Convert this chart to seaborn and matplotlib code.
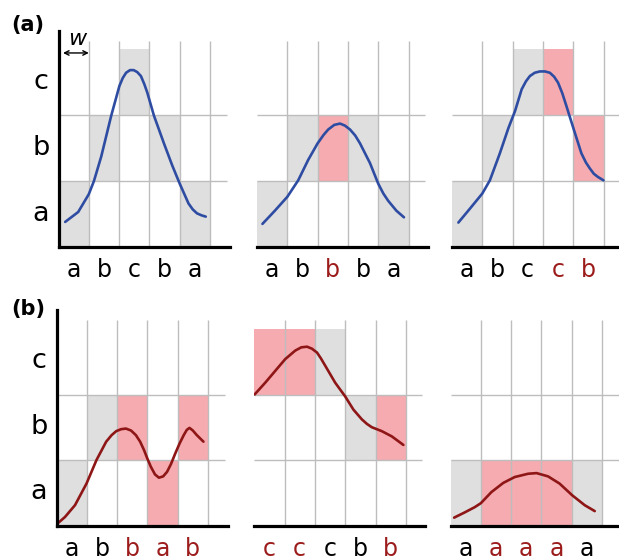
import matplotlib
matplotlib.use("Agg")
import matplotlib.pyplot as plt
import seaborn as sns
import pandas as pd

sns.set_theme(style="white")
plt.rcParams['font.family'] = ['DejaVu Sans']
plt.rcParams['text.color'] = 'black'

# ---------------- data ----------------
levels = ['a', 'b', 'c']

# row (a)
a1_letters = ['a', 'b', 'c', 'b', 'a']
a1_hilite = [0, 0, 0, 0, 0]
a1_x = [0.22, 0.65, 1.0, 1.17, 1.41, 1.74, 2.01, 2.12, 2.23, 2.36, 2.48, 2.6, 2.72, 2.83, 2.93, 3.15, 3.48, 3.75, 4.0, 4.29, 4.43, 4.57, 4.72, 4.86]
a1_y = [0.38, 0.53, 0.80, 1.0, 1.37, 1.99, 2.44, 2.56, 2.64, 2.68, 2.68, 2.65, 2.59, 2.47, 2.34, 1.99, 1.57, 1.24, 0.96, 0.66, 0.57, 0.51, 0.48, 0.46]

a2_letters = ['a', 'b', 'b', 'b', 'a']
a2_hilite = [0, 0, 1, 0, 0]
a2_x = [0.18, 0.59, 1.0, 1.36, 1.69, 2.0, 2.2, 2.35, 2.55, 2.74, 2.9, 3.07, 3.24, 3.4, 3.73, 4.0, 4.17, 4.33, 4.6, 4.85]
a2_y = [0.35, 0.55, 0.76, 1.01, 1.32, 1.57, 1.70, 1.78, 1.85, 1.87, 1.84, 1.78, 1.69, 1.57, 1.27, 0.96, 0.81, 0.70, 0.55, 0.45]

a3_letters = ['a', 'b', 'c', 'c', 'b']
a3_hilite = [0, 0, 0, 1, 1]
a3_x = [0.21, 0.59, 1.0, 1.25, 1.58, 1.86, 2.08, 2.3, 2.44, 2.57, 2.73, 2.9, 3.07, 3.23, 3.37, 3.5, 3.64, 3.78, 4.02, 4.27, 4.42, 4.55, 4.68, 4.82, 5.0]
a3_y = [0.37, 0.58, 0.81, 1.01, 1.42, 1.80, 2.06, 2.39, 2.51, 2.59, 2.64, 2.66, 2.66, 2.64, 2.58, 2.49, 2.33, 2.13, 1.78, 1.42, 1.28, 1.19, 1.11, 1.06, 1.01]

# row (b)
b1_letters = ['a', 'b', 'b', 'a', 'b']
b1_hilite = [0, 0, 1, 1, 1]
b1_x = [0.01, 0.28, 0.61, 0.99, 1.32, 1.64, 1.82, 1.97, 2.13, 2.29, 2.46, 2.62, 2.76, 2.89, 3.0, 3.11, 3.25, 3.38, 3.52, 3.65, 3.78, 3.92, 4.06, 4.2, 4.3, 4.39, 4.5, 4.63, 4.85]
b1_y = [0.02, 0.13, 0.31, 0.64, 1.0, 1.28, 1.38, 1.44, 1.47, 1.48, 1.45, 1.38, 1.28, 1.15, 1.02, 0.90, 0.78, 0.73, 0.75, 0.82, 0.94, 1.10, 1.25, 1.38, 1.46, 1.49, 1.45, 1.38, 1.28]

b2_letters = ['c', 'c', 'c', 'b', 'b']
b2_hilite = [1, 1, 0, 0, 1]
b2_x = [0.01, 0.36, 0.69, 1.02, 1.35, 1.55, 1.74, 1.9, 2.07, 2.2, 2.34, 2.67, 3.0, 3.27, 3.55, 3.72, 3.88, 4.21, 4.54, 4.92]
b2_y = [2.0, 2.18, 2.36, 2.54, 2.67, 2.72, 2.73, 2.70, 2.64, 2.55, 2.44, 2.18, 1.97, 1.77, 1.62, 1.55, 1.50, 1.44, 1.36, 1.23]

b3_letters = ['a', 'a', 'a', 'a', 'a']
b3_hilite = [0, 1, 1, 1, 0]
b3_x = [0.12, 0.47, 0.8, 1.0, 1.35, 1.74, 2.12, 2.56, 2.84, 3.22, 3.6, 4.02, 4.43, 4.76]
b3_y = [0.12, 0.20, 0.28, 0.34, 0.51, 0.65, 0.74, 0.79, 0.80, 0.75, 0.64, 0.46, 0.31, 0.22]

# ---------------- style ----------------
W, H = 619, 560
GRAY = '#dfdfdf'
PINK = '#f6abb0'
GRID = '#bdbdbd'
BLUE = '#2e4ca2'
DRED = '#8e1616'
TRED = '#9c1c1c'
COLW = 30.3

fig = plt.figure(figsize=(W / 100, H / 100), dpi=100)


def panel(left_px, base_px, unit, letters, hilite, cx, cy, line_color, first=False):
    w_px, h_px = 171, 216
    ax = fig.add_axes([left_px / W, (H - base_px) / H, w_px / W, h_px / H])
    ax.set_xlim(0, w_px / COLW)
    ax.set_ylim(0, h_px / unit)
    ax.set_xticks([])
    ax.set_yticks([])
    ax.set_facecolor('none')
    for s in ['top', 'right']:
        ax.spines[s].set_visible(False)
    ax.spines['left'].set_visible(first)
    for s in ['left', 'bottom']:
        ax.spines[s].set_linewidth(2.3)
        ax.spines[s].set_color('black')
        ax.spines[s].set_zorder(5)
    bottoms = [levels.index(l) for l in letters]
    cols = [PINK if h else GRAY for h in hilite]
    ax.bar(range(5), [1] * 5, bottom=bottoms, width=1, align='edge',
           color=cols, linewidth=0, zorder=1)
    top_v = (h_px - 10) / unit
    ax.vlines(range(1, 6), 0, top_v, color=GRID, lw=1.0, zorder=2)
    ax.hlines([1, 2], 0, 5.55, color=GRID, lw=1.0, zorder=2)
    df = pd.DataFrame({'x': cx, 'y': cy})
    sns.lineplot(data=df, x='x', y='y', sort=False, color=line_color,
                 lw=1.9, ax=ax, zorder=4, solid_joinstyle='round',
                 solid_capstyle='round')
    ax.set_xlabel('')
    ax.set_ylabel('')
    for i, (l, h) in enumerate(zip(letters, hilite)):
        ax.text(i + 0.5, -30 / unit, l, ha='center', va='baseline',
                fontsize=17, color=TRED if h else 'black', clip_on=False)
    if first:
        for j, l in enumerate(levels):
            ax.text(-0.58, j + 0.4, l, ha='center', va='baseline',
                    fontsize=19.5, color='black', clip_on=False)
    return ax


ax_a1 = panel(58.5, 247, 66, a1_letters, a1_hilite, a1_x, a1_y, BLUE, first=True)
panel(257, 247, 66, a2_letters, a2_hilite, a2_x, a2_y, BLUE)
panel(452, 247, 66, a3_letters, a3_hilite, a3_x, a3_y, BLUE)
panel(56.5, 525.5, 65.5, b1_letters, b1_hilite, b1_x, b1_y, DRED, first=True)
panel(254.3, 525.5, 65.5, b2_letters, b2_hilite, b2_x, b2_y, DRED)
panel(450.5, 525.5, 65.5, b3_letters, b3_hilite, b3_x, b3_y, DRED)

# width annotation
ax_a1.annotate('', xy=(0.15, 2.94), xytext=(1.0, 2.94),
               arrowprops=dict(arrowstyle='<->', color='black', lw=1.0,
                               shrinkA=0, shrinkB=0, mutation_scale=8),
               annotation_clip=False)
ax_a1.text(0.62, 3.06, 'w', ha='center', va='baseline', fontsize=16,
           style='italic', color='black', clip_on=False)

fig.text(11 / W, 1 - 31 / H, '(a)', ha='left', va='baseline', fontsize=15,
         fontweight='bold', color='black')
fig.text(11 / W, 1 - 315 / H, '(b)', ha='left', va='baseline', fontsize=15,
         fontweight='bold', color='black')

fig.savefig('out.png', dpi=100)
